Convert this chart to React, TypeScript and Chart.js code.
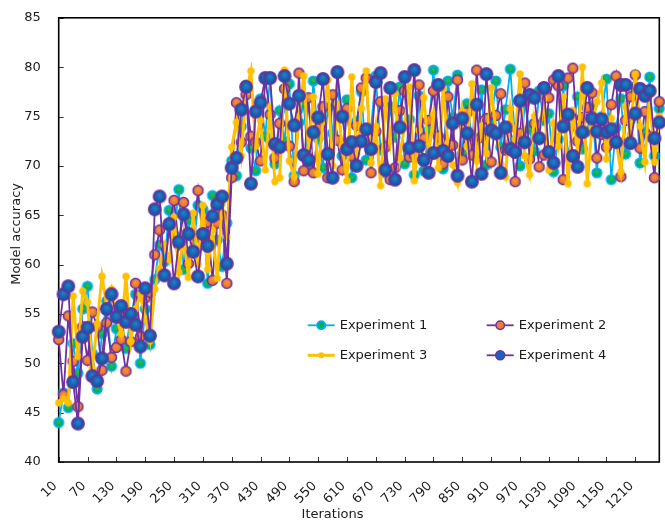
import React, { useEffect, useRef } from "react";
import { Chart, registerables } from "chart.js";

Chart.register(...registerables);

const iterations: number[] = [
  10, 20, 30, 40, 50, 60, 70, 80, 90, 100, 110, 120, 130, 140, 150, 160, 170, 180, 190, 200,
  210, 220, 230, 240, 250, 260, 270, 280, 290, 300, 310, 320, 330, 340, 350, 360, 370, 380, 390, 400,
  410, 420, 430, 440, 450, 460, 470, 480, 490, 500, 510, 520, 530, 540, 550, 560, 570, 580, 590, 600,
  610, 620, 630, 640, 650, 660, 670, 680, 690, 700, 710, 720, 730, 740, 750, 760, 770, 780, 790, 800,
  810, 820, 830, 840, 850, 860, 870, 880, 890, 900, 910, 920, 930, 940, 950, 960, 970, 980, 990, 1000,
  1010, 1020, 1030, 1040, 1050, 1060, 1070, 1080, 1090, 1100, 1110, 1120, 1130, 1140, 1150, 1160, 1170, 1180, 1190, 1200,
  1210, 1220, 1230, 1240, 1250, 1260,
];

const experiment1: number[] = [
  44.0, 47.0, 45.5, 52.0, 49.0, 55.5, 57.8, 51.0, 47.4, 53.0, 56.3, 49.7, 53.5, 55.0, 51.5, 54.8, 57.0, 50.0, 55.5, 51.9,
  58.5, 62.0, 60.3, 65.5, 63.0, 67.6, 59.5, 64.5, 61.5, 66.0, 65.6, 58.1, 67.0, 62.5, 59.8, 64.2, 70.5, 69.0, 74.0, 78.2,
  71.8, 69.5, 76.8, 73.0, 79.0, 70.2, 75.6, 72.5, 78.3, 69.0, 74.4, 76.2, 70.0, 78.6, 72.8, 69.8, 75.9, 73.3, 79.4, 71.0,
  76.7, 68.8, 74.5, 77.5, 70.6, 73.8, 79.1, 71.6, 69.3, 76.0, 72.9, 78.0, 70.2, 74.7, 69.1, 77.1, 69.5, 73.6, 79.7, 72.0,
  69.7, 78.6, 74.9, 79.2, 71.2, 76.3, 73.0, 70.8, 77.7, 70.1, 74.2, 78.6, 71.9, 75.7, 79.8, 72.6, 70.0, 76.4, 73.7, 71.5,
  77.6, 74.6, 75.3, 69.4, 72.7, 78.1, 70.9, 74.0, 77.0, 71.7, 73.5, 76.1, 69.3, 75.0, 78.8, 68.6, 73.9, 76.8, 71.2, 74.7,
  78.0, 70.3, 73.4, 79.0, 71.0, 75.8,
];

const experiment2: number[] = [
  52.4, 46.8, 54.8, 50.2, 45.6, 53.7, 50.3, 55.2, 53.7, 49.3, 54.1, 50.6, 51.6, 52.4, 49.2, 52.2, 58.1, 52.7, 56.6, 57.2,
  61.0, 63.5, 59.0, 64.0, 66.5, 62.0, 66.3, 60.1, 63.0, 67.5, 62.5, 64.3, 58.4, 64.2, 65.0, 58.1, 68.8, 76.4, 72.4, 77.2,
  73.0, 72.4, 70.5, 78.9, 75.2, 70.8, 74.3, 77.8, 72.0, 68.4, 79.4, 69.5, 76.9, 69.3, 73.8, 76.0, 68.8, 77.2, 72.6, 69.6,
  75.8, 71.0, 74.1, 77.9, 78.9, 69.3, 73.5, 76.5, 71.9, 68.6, 69.8, 75.6, 77.6, 70.9, 71.1, 78.2, 72.8, 74.6, 77.6, 73.0,
  70.2, 77.0, 72.1, 78.7, 70.6, 75.4, 71.1, 79.7, 72.9, 74.8, 70.4, 75.1, 77.3, 71.6, 74.0, 68.4, 73.3, 78.4, 70.7, 74.3,
  69.9, 71.1, 76.9, 78.7, 78.1, 68.6, 78.9, 79.9, 72.5, 74.9, 75.9, 77.4, 70.8, 73.2, 71.9, 76.2, 79.1, 68.9, 74.6, 77.0,
  79.2, 71.8, 75.5, 73.0, 68.8, 76.5,
];

const experiment3: number[] = [
  46.0, 46.4, 46.0, 56.8, 50.7, 57.3, 56.2, 49.5, 54.0, 58.8, 55.8, 57.5, 54.7, 53.0, 58.8, 52.2, 55.5, 57.0, 54.5, 52.3,
  57.5, 59.6, 62.0, 60.5, 64.8, 59.2, 63.0, 58.7, 65.2, 60.0, 66.0, 59.5, 63.5, 58.6, 66.2, 62.8, 71.9, 74.4, 71.0, 77.5,
  79.6, 72.0, 74.6, 69.6, 76.0, 68.4, 68.8, 79.7, 70.5, 68.9, 75.0, 79.1, 71.5, 77.0, 69.2, 74.5, 78.7, 70.0, 76.3, 72.0,
  68.5, 79.0, 71.2, 75.8, 79.6, 70.3, 74.0, 68.0, 76.8, 72.5, 77.3, 70.8, 74.2, 78.0, 68.5, 73.6, 76.9, 71.0, 75.2, 69.8,
  77.8, 72.3, 70.1, 68.3, 75.5, 72.0, 78.3, 70.5, 74.0, 71.3, 77.9, 73.5, 70.2, 68.9, 75.8, 72.7, 79.3, 71.0, 69.1, 75.0,
  73.2, 76.8, 69.6, 74.3, 72.0, 77.0, 68.2, 75.6, 71.4, 80.0, 68.2, 73.9, 76.5, 78.4, 70.7, 74.8, 72.6, 69.4, 76.0, 73.1,
  79.3, 74.0, 70.4, 77.2, 70.4, 75.0,
];

const experiment4: number[] = [
  53.2, 57.0, 57.8, 48.1, 43.9, 52.7, 53.6, 48.7, 48.2, 50.5, 55.5, 57.0, 54.7, 55.8, 54.2, 55.0, 53.9, 51.7, 57.6, 52.8,
  65.6, 66.9, 58.9, 64.1, 58.1, 62.3, 65.1, 63.1, 61.3, 58.8, 63.1, 61.9, 64.9, 66.1, 66.9, 60.1, 69.8, 70.8, 75.7, 78.0,
  68.2, 75.5, 76.4, 78.9, 78.9, 72.2, 71.9, 79.1, 76.3, 74.1, 77.1, 71.1, 70.6, 73.4, 74.9, 78.8, 71.2, 68.8, 79.5, 75.0,
  71.7, 72.4, 70.0, 72.5, 73.7, 71.7, 78.5, 79.4, 69.6, 77.9, 68.6, 73.9, 79.0, 71.8, 79.7, 72.0, 70.6, 69.3, 71.3, 78.2,
  71.5, 71.0, 74.3, 69.0, 74.8, 73.3, 68.4, 76.2, 69.2, 79.3, 73.6, 73.3, 69.3, 73.9, 71.7, 71.4, 76.6, 72.4, 77.2, 76.9,
  72.8, 77.9, 71.4, 70.3, 79.1, 74.0, 75.2, 71.0, 69.9, 73.4, 77.9, 74.8, 73.5, 74.7, 73.4, 73.7, 72.4, 78.2, 78.2, 72.3,
  75.3, 77.8, 77.1, 77.6, 72.8, 74.4,
];

const seriesNames: string[] = ["Experiment 1", "Experiment 2", "Experiment 3", "Experiment 4"];
const xTitle = "Iterations";
const yTitle = "Model accuracy";
const yMin = 40;
const yMax = 85;
const yStep = 5;
const labelEvery = 6;

const FONT = '"DejaVu Sans", Verdana, sans-serif';
const TEXT = "#1a1a1a";

function makeMarker(r: number, inner: string, outer: string, border: string, bw: number): HTMLCanvasElement {
  const size = Math.ceil(2 * (r + bw)) + 2;
  const c = document.createElement("canvas");
  c.width = size;
  c.height = size;
  const g = c.getContext("2d") as CanvasRenderingContext2D;
  const cx = size / 2;
  const cy = size / 2;
  const grad = g.createRadialGradient(cx, cy - r * 0.25, 0, cx, cy, r);
  grad.addColorStop(0, inner);
  grad.addColorStop(1, outer);
  g.beginPath();
  g.arc(cx, cy, r, 0, Math.PI * 2);
  g.fillStyle = grad;
  g.fill();
  if (bw > 0) {
    g.lineWidth = bw;
    g.strokeStyle = border;
    g.stroke();
  }
  return c;
}

const framePlugin = {
  id: "frame",
  beforeDatasetsDraw(chart: any) {
    const { ctx, chartArea: a, scales } = chart;
    const x = scales.x;
    const y = scales.y;
    ctx.save();
    ctx.strokeStyle = "#333";
    ctx.lineWidth = 1;
    iterations.forEach((_v, i) => {
      if (i % labelEvery !== 0) return;
      const px = Math.round(x.getPixelForValue(i)) + 0.5;
      ctx.beginPath();
      ctx.moveTo(px, a.bottom);
      ctx.lineTo(px, a.bottom - 5);
      ctx.stroke();
    });
    y.ticks.forEach((_t: any, i: number) => {
      const py = Math.round(y.getPixelForTick(i)) + 0.5;
      ctx.beginPath();
      ctx.moveTo(a.left, py);
      ctx.lineTo(a.left + 5, py);
      ctx.stroke();
    });
    ctx.strokeStyle = "#000";
    ctx.lineWidth = 1.6;
    ctx.strokeRect(a.left, a.top, a.right - a.left, a.bottom - a.top);
    ctx.restore();
  },
  afterDraw(chart: any) {
    const { ctx, chartArea: a, scales } = chart;
    const x = scales.x;
    ctx.save();
    ctx.font = `13px ${FONT}`;
    ctx.fillStyle = TEXT;
    ctx.textAlign = "right";
    ctx.textBaseline = "middle";
    iterations.forEach((v, i) => {
      if (i % labelEvery !== 0) return;
      const px = x.getPixelForValue(i);
      ctx.save();
      ctx.translate(px - 3.5, a.bottom + 22);
      ctx.rotate(-Math.PI / 4);
      ctx.fillText(String(v), 0, 0);
      ctx.restore();
    });
    ctx.textAlign = "center";
    ctx.textBaseline = "middle";
    ctx.fillText(xTitle, chart.width / 2 - 1, chart.height - 10);
    ctx.translate(17, (a.top + a.bottom) / 2 - 6);
    ctx.rotate(-Math.PI / 2);
    ctx.fillText(yTitle, 0, 0);
    ctx.restore();

    ctx.save();
    const colX = [a.left + 249, a.left + 428];
    const rowY = [a.top + 307.5, a.top + 337.5];
    chart.data.datasets.forEach((ds: any, i: number) => {
      const lx = colX[i % 2];
      const ly = rowY[Math.floor(i / 2)];
      ctx.strokeStyle = ds.borderColor;
      ctx.lineWidth = ds.borderWidth;
      ctx.beginPath();
      ctx.moveTo(lx, ly);
      ctx.lineTo(lx + 27, ly);
      ctx.stroke();
      ctx.beginPath();
      ctx.arc(lx + 13.5, ly, ds.legendRadius, 0, Math.PI * 2);
      ctx.fillStyle = ds.pointBackgroundColor;
      ctx.fill();
      if (ds.pointBorderWidth > 0) {
        ctx.lineWidth = ds.pointBorderWidth;
        ctx.strokeStyle = ds.pointBorderColor;
        ctx.stroke();
      }
      ctx.font = `13px ${FONT}`;
      ctx.fillStyle = TEXT;
      ctx.textAlign = "left";
      ctx.textBaseline = "middle";
      ctx.fillText(ds.label, lx + 32, ly + 0.5);
    });
    ctx.restore();
  },
};

export default function App() {
  const canvasRef = useRef<HTMLCanvasElement | null>(null);

  useEffect(() => {
    if (!canvasRef.current) return;
    Chart.defaults.font.family = FONT;
    Chart.defaults.font.size = 13;
    Chart.defaults.color = TEXT;

    const m1 = makeMarker(4.6, "#22c266", "#00a04a", "#00b0f0", 2);
    const m2 = makeMarker(5, "#f59448", "#e4701f", "#7030a0", 1.5);
    const m3 = makeMarker(3.7, "#ffc000", "#ffc000", "#ffc000", 0);
    const m4 = makeMarker(6.2, "#2a7fd2", "#0b5199", "#7030a0", 1.5);

    const chart = new Chart(canvasRef.current, {
      type: "line",
      data: {
        labels: iterations,
        datasets: [
          { label: seriesNames[0], data: experiment1, borderColor: "#00b0f0", borderWidth: 1.8, pointBackgroundColor: "#00b050", pointBorderColor: "#00b0f0", pointBorderWidth: 2, pointRadius: 4.6, pointStyle: m1, legendRadius: 4, order: 4 } as any,
          { label: seriesNames[1], data: experiment2, borderColor: "#7030a0", borderWidth: 1.8, pointBackgroundColor: "#ed7d31", pointBorderColor: "#7030a0", pointBorderWidth: 1.5, pointRadius: 5, pointStyle: m2, legendRadius: 4.2, order: 3 } as any,
          { label: seriesNames[2], data: experiment3, borderColor: "#ffc000", borderWidth: 3, pointBackgroundColor: "#ffc000", pointBorderColor: "#ffc000", pointBorderWidth: 0, pointRadius: 3.7, pointStyle: m3, legendRadius: 3, order: 2 } as any,
          { label: seriesNames[3], data: experiment4, borderColor: "#7030a0", borderWidth: 1.8, pointBackgroundColor: "#1565b8", pointBorderColor: "#7030a0", pointBorderWidth: 1.5, pointRadius: 6.2, pointStyle: m4, legendRadius: 4.5, order: 1 } as any,
        ],
      },
      options: {
        animation: false,
        responsive: false,
        devicePixelRatio: 1,
        layout: { padding: { top: 10.7, left: 0, right: 0, bottom: 0 } },
        elements: { line: { tension: 0 } },
        plugins: { legend: { display: false }, tooltip: { enabled: false } },
        scales: {
          x: {
            type: "category",
            grid: { display: false },
            border: { display: false },
            ticks: { display: false, autoSkip: false },
            afterFit: (s: any) => { s.height = 63; },
          },
          y: {
            min: yMin,
            max: yMax,
            grid: { display: false },
            border: { display: false },
            ticks: { stepSize: yStep, padding: 10, color: TEXT },
            afterFit: (s: any) => { s.width = 58.7; },
          },
        },
      },
      plugins: [framePlugin],
    });
    return () => chart.destroy();
  }, []);

  return (
    <div style={{ position: "fixed", left: 0, top: 0, width: 665, height: 525, overflow: "hidden", background: "#fff" }}>
      <canvas ref={canvasRef} width={667} height={525} style={{ display: "block" }} />
    </div>
  );
}
